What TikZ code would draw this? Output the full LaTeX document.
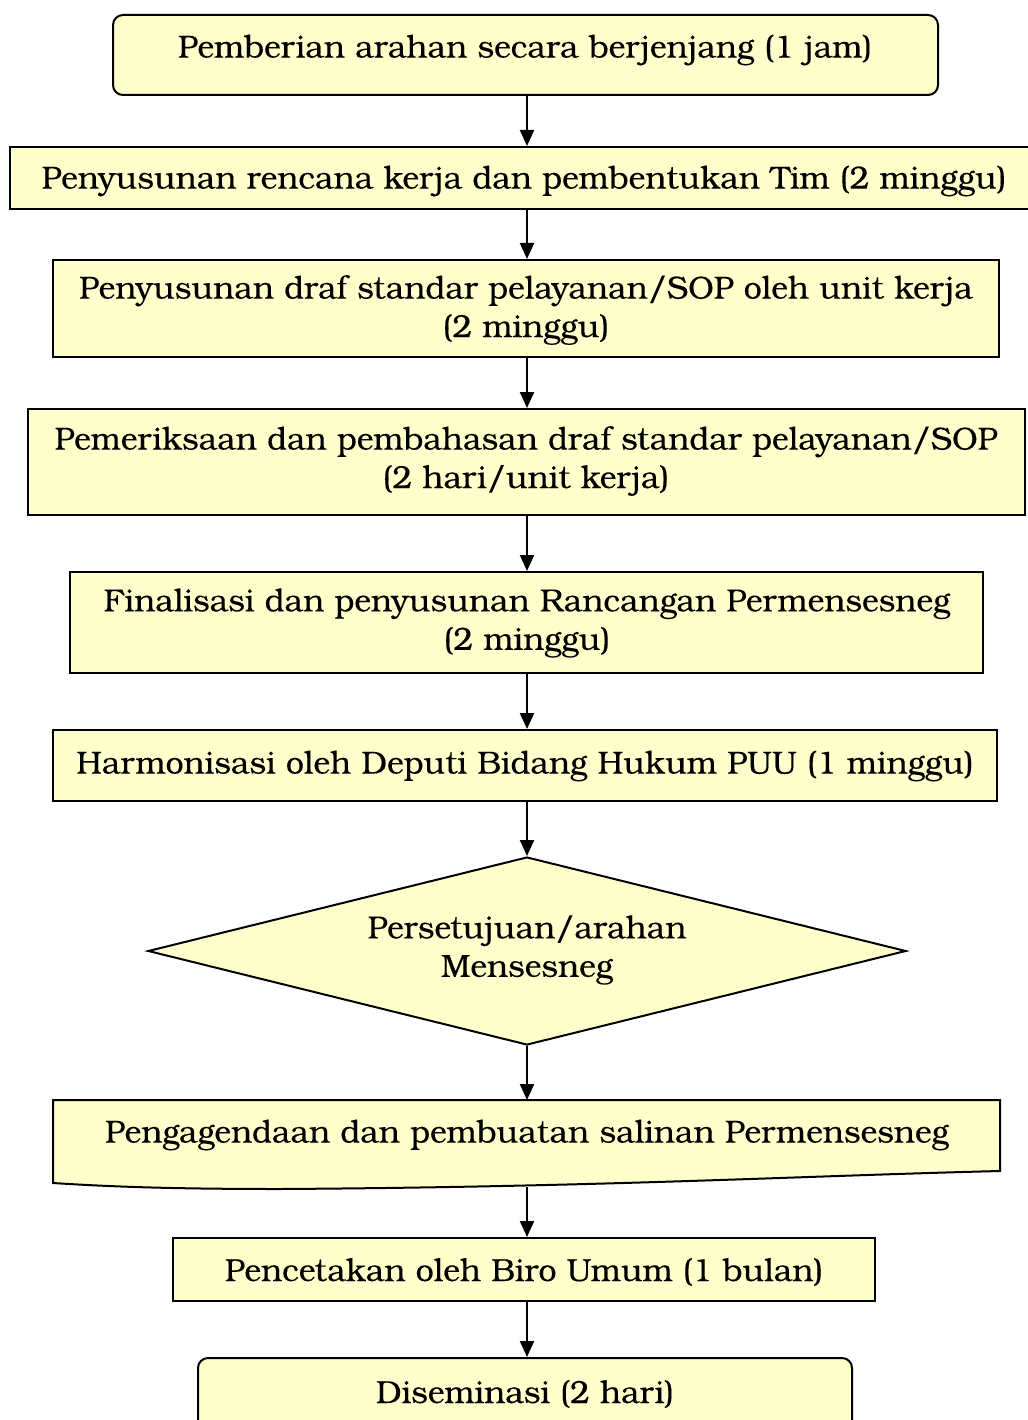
\documentclass[tikz,border=0pt]{standalone}
\usepackage{fontspec}
\setmainfont[FakeBold=0.2]{TeX Gyre Bonum}
\usetikzlibrary{shapes.geometric,arrows.meta}
\definecolor{boxfill}{HTML}{FFFFCC}
\begin{document}
\begin{tikzpicture}[x=1pt,y=-1pt,
  box/.style={draw=black,fill=boxfill,line width=2pt,inner sep=0pt},
  lbl/.style={font=\fontsize{32}{38.5}\selectfont,align=center,inner sep=0pt},
  arr/.style={line width=2.2pt,-{Triangle[length=16pt,width=14pt]}}]
\useasboundingbox (0,0) rectangle (1027,1420);
\coordinate (axis) at (527,0);
% boxes
\node[box,rounded corners=10pt,minimum width=825pt,minimum height=80pt] (b1) at (525.5,55) {};
\node[box,minimum width=1022pt,minimum height=62pt] (b2) at (521,178) {};
\node[box,minimum width=946pt,minimum height=97pt] (b3) at (526,308.5) {};
\node[box,minimum width=997pt,minimum height=106pt] (b4) at (526.5,462) {};
\node[box,minimum width=913pt,minimum height=101pt] (b5) at (526.5,622.5) {};
\node[box,minimum width=944pt,minimum height=71pt] (b6) at (525,765.5) {};
\node[box,diamond,aspect=4.03,minimum width=758pt,minimum height=188pt] (d7) at (527,951) {};
\coordinate (b8top) at (527,1100);
\coordinate (b8bot) at (527,1187);
\draw[box] (53,1100) -- (1000,1100) -- (1000,1171)
  .. controls (800,1176) and (600,1187) .. (280,1189)
  .. controls (160,1189) and (100,1186) .. (53,1183) -- cycle;
\node[box,minimum width=702pt,minimum height=63pt] (b9) at (524,1269.5) {};
\node[box,rounded corners=10pt,minimum width=654pt,minimum height=92pt] (b10) at (525,1404) {};
% texts
\node[lbl] (t1) at (525,50) {Pemberian arahan secara berjenjang (1 jam)};
\node[lbl] (t2) at (524,181) {Penyusunan rencana kerja dan pembentukan Tim (2 minggu)};
\node[lbl] (t3) at (526,310) {Penyusunan draf standar pelayanan/SOP oleh unit kerja\\(2 minggu)};
\node[lbl] (t4) at (526,461) {Pemeriksaan dan pembahasan draf standar pelayanan/SOP\\(2 hari/unit kerja)};
\node[lbl] (t5) at (527,623) {Finalisasi dan penyusunan Rancangan Permensesneg\\(2 minggu)};
\node[lbl] (t6) at (525,766) {Harmonisasi oleh Deputi Bidang Hukum PUU (1 minggu)};
\node[lbl] (t7) at (527,950) {Persetujuan/arahan\\Mensesneg};
\node[lbl] (t8) at (527,1135) {Pengagendaan dan pembuatan salinan Permensesneg};
\node[lbl] (t9) at (524,1272) {Pencetakan oleh Biro Umum (1 bulan)};
\node[lbl] (t10) at (525,1394) {Diseminasi (2 hari)};
% arrows
\draw[arr] (b1.south -| axis) -- (b2.north -| axis);
\draw[arr] (b2.south -| axis) -- (b3.north -| axis);
\draw[arr] (b3.south -| axis) -- (b4.north -| axis);
\draw[arr] (b4.south -| axis) -- (b5.north -| axis);
\draw[arr] (b5.south -| axis) -- (b6.north -| axis);
\draw[arr] (b6.south -| axis) -- (d7.north);
\draw[arr] (d7.south) -- (b8top);
\draw[arr] (b8bot) -- (b9.north -| axis);
\draw[arr] (b9.south -| axis) -- (b10.north -| axis);
\end{tikzpicture}
\end{document}
